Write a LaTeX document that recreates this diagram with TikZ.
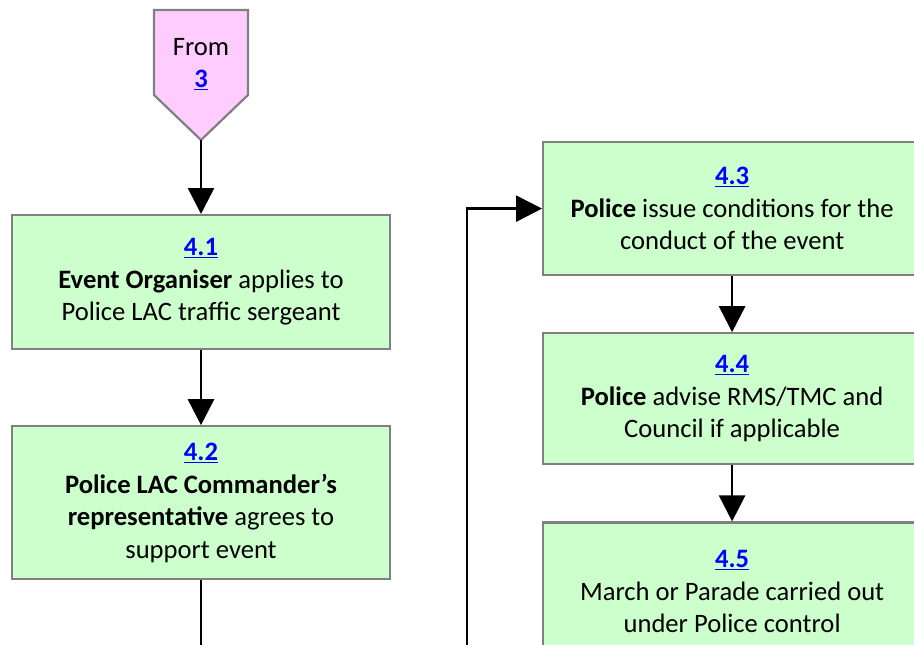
\documentclass[tikz,border=0pt]{standalone}
\usepackage{fontspec}
\setmainfont{Carlito}
\usetikzlibrary{arrows.meta,positioning}
\definecolor{StepGreen}{HTML}{CCFFCC}
\definecolor{FromPink}{HTML}{FFCCFF}
\definecolor{EdgeGrey}{HTML}{808080}
\definecolor{LinkBlue}{HTML}{0000FF}
\newcommand{\steplink}[1]{\textcolor{LinkBlue}{\underline{\textbf{#1}}}}

\begin{document}
\begin{tikzpicture}[x=1pt,y=1pt,every node/.style={align=center,font=\fontsize{26.6}{32.5}\selectfont},
    procbox/.style={draw=EdgeGrey,line width=2.2pt,fill=StepGreen,minimum width=378pt,inner sep=0pt},
    flow/.style={-{Triangle[length=26pt,width=26pt]},line width=2.6pt}]
      \useasboundingbox (0,0) rectangle (914,-645);
      \clip (0,0) rectangle (914,-645);
      \draw[draw=EdgeGrey,line width=2.2pt,fill=FromPink] (154,-10) -- (248,-10) -- (248,-95) -- (201,-140) -- (154,-95) -- cycle;
      \node (from) at (201,-64) {From\\\steplink{3}};
      \coordinate (fromtip) at (201,-140);
      \node[procbox,minimum height=134pt,below=74pt of fromtip] (s41) {\steplink{4.1}\\\textbf{Event Organiser} applies to\\Police LAC traffic sergeant};
      \node[procbox,minimum height=153pt,below=75pt of s41] (s42) {\steplink{4.2}\\\textbf{Police LAC Commander’s}\\\textbf{representative} agrees to\\support event};
      \coordinate (s42out) at (201,-650);
      \node[procbox,minimum height=133pt,anchor=north west] (s43) at (542,-141) {\steplink{4.3}\\\textbf{Police} issue conditions for the\\conduct of the event};
      \node[procbox,minimum height=131pt,below=56pt of s43] (s44) {\steplink{4.4}\\\textbf{Police} advise RMS/TMC and\\Council if applicable};
      \node[procbox,minimum height=138pt,below=56pt of s44] (s45) {\steplink{4.5}\\March or Parade carried out\\under Police control};
      \coordinate (backin) at (467,-650);
      \draw[flow] (fromtip) -- (s41);
      \draw[flow] (s41) -- (s42);
      \draw[line width=2.6pt] (s42) -- (s42out);
      \draw[flow] (backin) |- (s43);
      \draw[flow] (s43) -- (s44);
      \draw[flow] (s44) -- (s45);
    \end{tikzpicture}
\end{document}
